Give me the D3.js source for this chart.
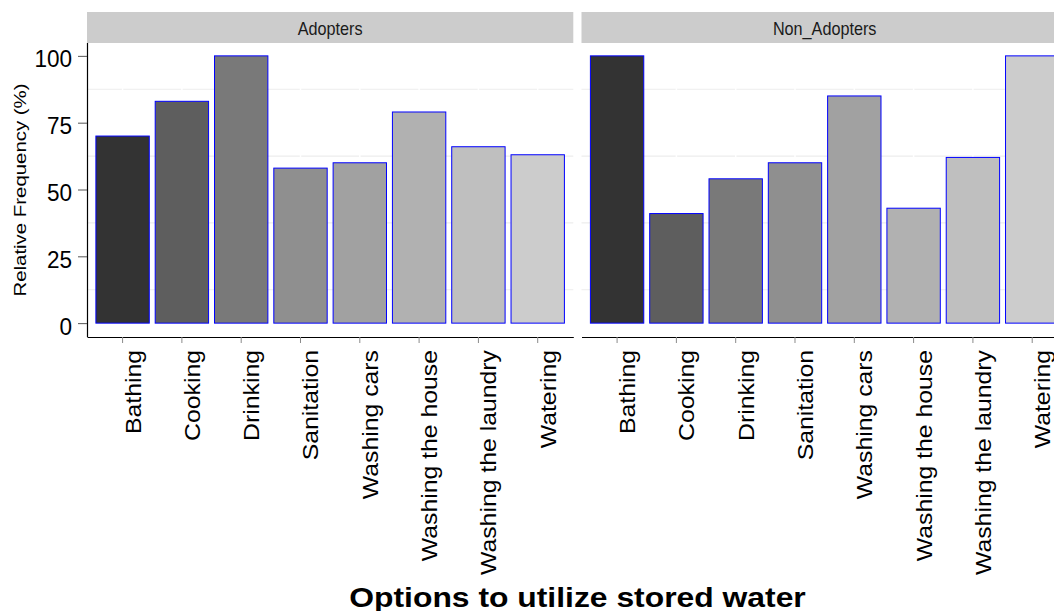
<!DOCTYPE html>
<html>
<head>
<meta charset="utf-8">
<script src="https://cdn.jsdelivr.net/npm/d3@7"></script>
<style>
  html, body { margin: 0; padding: 0; background: #ffffff; }
  svg { display: block; }
  text { font-family: "Liberation Sans", Arial, Helvetica, sans-serif; }
</style>
</head>
<body>
<svg id="chart" width="1054" height="611"></svg>
<script>
// ---- data ----
const categories = ["Bathing", "Cooking", "Drinking", "Sanitation", "Washing cars",
                    "Washing the house", "Washing the laundry", "Watering"];
const panels = ["Adopters", "Non_Adopters"];
const adopters = [70, 83, 100, 58, 60, 79, 66, 63];
const nonAdopters = [100, 41, 54, 60, 85, 43, 62, 100];
const yTicks = [0, 25, 50, 75, 100];
const yMinor = [12.5, 37.5, 62.5, 87.5];
const fills = ["#333333", "#5E5E5E", "#797979", "#8F8F8F", "#A1A1A1", "#B1B1B1", "#BFBFBF", "#CCCCCC"];
const xTitle = "Options to utilize stored water";
const yTitle = "Relative Frequency (%)";

const seriesByPanel = { "Adopters": adopters, "Non_Adopters": nonAdopters };

// ---- layout ----
const svg = d3.select("#chart");
const panelTop = 42.5, panelBottom = 336.5;
const stripTop = 12, stripH = 31;
const panelXs = [[87, 573.3], [581.5, 1067.8]];

const y = d3.scaleLinear().domain([-5, 105]).range([panelBottom, panelTop]);
const color = d3.scaleOrdinal().domain(categories).range(fills);

panels.forEach((p, pi) => {
  const [x0, x1] = panelXs[pi];
  const x = d3.scaleBand().domain(categories).range([x0, x1])
    .paddingInner(0.1).paddingOuter(0.15);
  const g = svg.append("g");
  const vals = seriesByPanel[p];

  // minor horizontal gridlines
  g.selectAll("line.minor").data(yMinor).enter().append("line")
    .attr("x1", x0).attr("x2", x1)
    .attr("y1", d => y(d)).attr("y2", d => y(d))
    .attr("stroke", "#ededed").attr("stroke-width", 1.2);
  // major vertical gridlines (white)
  g.selectAll("line.vmaj").data(categories).enter().append("line")
    .attr("x1", d => x(d) + x.bandwidth() / 2).attr("x2", d => x(d) + x.bandwidth() / 2)
    .attr("y1", panelTop).attr("y2", panelBottom)
    .attr("stroke", "#ffffff").attr("stroke-width", 1.5);

  // bars
  g.selectAll("rect.bar").data(categories).enter().append("rect")
    .attr("x", d => x(d))
    .attr("width", x.bandwidth())
    .attr("y", (d, i) => y(vals[i]))
    .attr("height", (d, i) => y(0) - y(vals[i]))
    .attr("fill", d => color(d))
    .attr("stroke", "#0000ff").attr("stroke-width", 1);

  // strip
  svg.append("rect").attr("x", x0).attr("y", stripTop)
    .attr("width", x1 - x0).attr("height", stripH).attr("fill", "#cccccc");
  svg.append("text")
    .attr("transform", `translate(${(x0 + x1) / 2},35.2) scale(0.9,1)`)
    .attr("text-anchor", "middle").attr("font-size", 18).attr("fill", "#1a1a1a")
    .text(p);

  // x axis
  const xa = svg.append("g").attr("transform", `translate(0,${panelBottom + 0.5})`)
    .call(d3.axisBottom(x).tickSize(6).tickSizeOuter(0));
  xa.select(".domain").attr("stroke", "#000").attr("stroke-width", 1.2);
  xa.selectAll(".tick line").attr("stroke", "#8a8a8a").attr("stroke-width", 1);
  xa.selectAll(".tick text")
    .attr("x", null).attr("y", null).attr("dy", null)
    .attr("transform", "translate(18,13) scale(0.9,1) rotate(-90)")
    .attr("text-anchor", "end").attr("font-size", 24.8).attr("fill", "#000")
    .attr("font-family", "Liberation Sans, Arial, sans-serif");

  if (pi === 0) {
    const ya = svg.append("g").attr("transform", `translate(${x0},0)`)
      .call(d3.axisLeft(y).tickValues(yTicks).tickSize(9).tickSizeOuter(0));
    ya.select(".domain").attr("stroke", "#000").attr("stroke-width", 1.2);
    ya.selectAll(".tick line").attr("stroke", "#555").attr("stroke-width", 1);
    ya.selectAll(".tick text")
      .attr("x", null).attr("y", null).attr("dy", null)
      .attr("transform", "translate(-15,11) scale(0.98,1)")
      .attr("text-anchor", "end").attr("font-size", 23).attr("fill", "#000")
      .attr("font-family", "Liberation Sans, Arial, sans-serif");
  }
});

// y title
svg.append("text")
  .attr("transform", "translate(25.7,190) scale(0.85,1) rotate(-90)")
  .attr("text-anchor", "middle").attr("font-size", 20.4).attr("fill", "#000")
  .text(yTitle);

// x title
svg.append("text")
  .attr("transform", "translate(577.5,606.5) scale(1.18,1)")
  .attr("text-anchor", "middle").attr("font-size", 27).attr("font-weight", "bold")
  .attr("fill", "#000")
  .text(xTitle);
</script>
</body>
</html>
